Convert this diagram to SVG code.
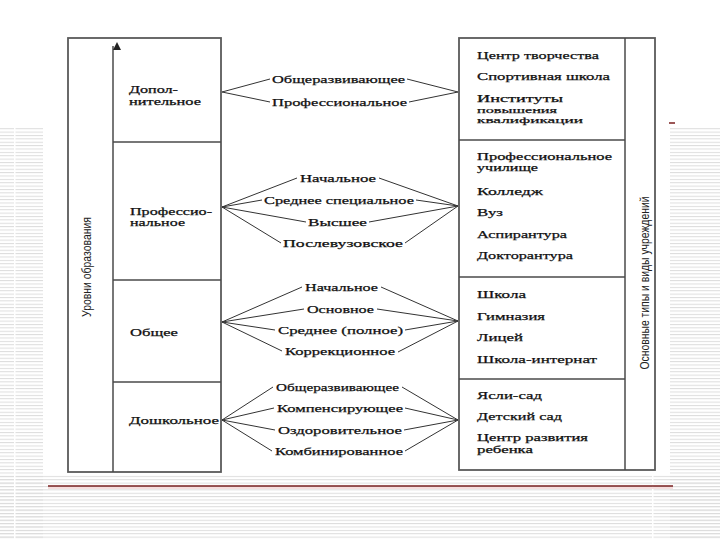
<svg xmlns="http://www.w3.org/2000/svg" width="720" height="540" viewBox="0 0 720 540">
<defs>
<pattern id="stripes" x="0" y="0" width="8" height="3.375" patternUnits="userSpaceOnUse">
<rect x="0" y="0" width="8" height="1" fill="#dcdcdc"/>
</pattern>
<marker id="arrowUp" viewBox="0 0 10 10" refX="5" refY="0" markerWidth="8" markerHeight="8" markerUnits="userSpaceOnUse" orient="auto">
<path d="M0,0 L10,5 L0,10 Z" fill="#222"/>
</marker>
<style>
.t{font-family:"Liberation Serif","Times New Roman",serif;font-size:11px;fill:#111;stroke:#111;stroke-width:0.25;}
.s{font-size:10px;}
.v{font-family:"Liberation Sans",Arial,sans-serif;font-size:12.5px;fill:#222;}
.box{fill:none;stroke:#5a5a5a;stroke-width:1.8;}
.div{stroke:#4a4a4a;stroke-width:1.5;}
.c{stroke:#333;stroke-width:1;fill:none;}
</style>
</defs>
<rect width="720" height="540" fill="#fff"/>
<g id="background">
<rect x="0" y="128" width="43" height="412" fill="url(#stripes)"/>
<rect x="670" y="128" width="50" height="412" fill="url(#stripes)"/>
<rect x="0" y="475" width="720" height="65" fill="url(#stripes)"/>
<rect x="14" y="128" width="1.5" height="412" fill="#fff"/>
<rect x="652" y="472" width="1.5" height="68" fill="#fff"/>
<rect x="48" y="487" width="625" height="2" fill="#f6dede"/>
<line x1="48" y1="486" x2="673" y2="486" stroke="#7a1f1f" stroke-width="1.5"/>
<line x1="669" y1="123" x2="675" y2="123" stroke="#7a1f1f" stroke-width="1.5"/>
</g>
<g id="levels-frame">
<rect class="box" x="68" y="38" width="153" height="434"/>
<line class="div" x1="113" y1="472" x2="113" y2="46" marker-end="url(#arrowUp)"/>
<line class="div" x1="113" y1="142" x2="221" y2="142"/>
<line class="div" x1="113" y1="280" x2="221" y2="280"/>
<line class="div" x1="113" y1="382" x2="221" y2="382"/>
<text class="v" transform="translate(91,267) rotate(-90)" text-anchor="middle" textLength="100" lengthAdjust="spacingAndGlyphs">Уровни образования</text>
</g>
<g id="level-dop">
<text class="t s" x="129" y="93" textLength="49" lengthAdjust="spacingAndGlyphs">Допол-</text>
<text class="t s" x="129" y="105" textLength="72" lengthAdjust="spacingAndGlyphs">нительное</text>
</g>
<g id="level-prof">
<text class="t s" x="130" y="215" textLength="82" lengthAdjust="spacingAndGlyphs">Профессио-</text>
<text class="t s" x="130" y="226" textLength="55" lengthAdjust="spacingAndGlyphs">нальное</text>
</g>
<g id="level-obsh">
<text class="t" x="130" y="336" textLength="48" lengthAdjust="spacingAndGlyphs">Общее</text>
</g>
<g id="level-dosh">
<text class="t" x="129" y="424" textLength="90" lengthAdjust="spacingAndGlyphs">Дошкольное</text>
</g>
<g id="inst-frame">
<rect class="box" x="459" y="38" width="196" height="432"/>
<line class="div" x1="625" y1="38" x2="625" y2="470"/>
<line class="div" x1="459" y1="140" x2="625" y2="140"/>
<line class="div" x1="459" y1="277" x2="625" y2="277"/>
<line class="div" x1="459" y1="379" x2="625" y2="379"/>
<text class="v" transform="translate(649,283) rotate(-90)" text-anchor="middle" textLength="173" lengthAdjust="spacingAndGlyphs">Основные типы и виды учреждений</text>
</g>
<g id="inst-dop">
<text class="t" x="477" y="59" textLength="122" lengthAdjust="spacingAndGlyphs">Центр творчества</text>
<text class="t" x="477" y="80" textLength="133" lengthAdjust="spacingAndGlyphs">Спортивная школа</text>
<text class="t s" x="477" y="102" textLength="86" lengthAdjust="spacingAndGlyphs">Институты</text>
<text class="t" x="477" y="113" style="font-size:9px" textLength="80" lengthAdjust="spacingAndGlyphs">повышения</text>
<text class="t" x="477" y="123" style="font-size:9px" textLength="106" lengthAdjust="spacingAndGlyphs">квалификации</text>
</g>
<g id="inst-prof">
<text class="t s" x="477" y="160" textLength="135" lengthAdjust="spacingAndGlyphs">Профессиональное</text>
<text class="t s" x="477" y="171" textLength="61" lengthAdjust="spacingAndGlyphs">училище</text>
<text class="t" x="477" y="195" textLength="66" lengthAdjust="spacingAndGlyphs">Колледж</text>
<text class="t" x="477" y="216" textLength="26" lengthAdjust="spacingAndGlyphs">Вуз</text>
<text class="t" x="477" y="238" textLength="90" lengthAdjust="spacingAndGlyphs">Аспирантура</text>
<text class="t" x="477" y="259" textLength="96" lengthAdjust="spacingAndGlyphs">Докторантура</text>
</g>
<g id="inst-obsh">
<text class="t" x="477" y="298" textLength="49" lengthAdjust="spacingAndGlyphs">Школа</text>
<text class="t" x="477" y="320" textLength="68" lengthAdjust="spacingAndGlyphs">Гимназия</text>
<text class="t" x="477" y="341" textLength="46" lengthAdjust="spacingAndGlyphs">Лицей</text>
<text class="t" x="477" y="363" textLength="120" lengthAdjust="spacingAndGlyphs">Школа-интернат</text>
</g>
<g id="inst-dosh">
<text class="t" x="477" y="399" textLength="65" lengthAdjust="spacingAndGlyphs">Ясли-сад</text>
<text class="t" x="477" y="420" textLength="85" lengthAdjust="spacingAndGlyphs">Детский сад</text>
<text class="t s" x="477" y="441" textLength="111" lengthAdjust="spacingAndGlyphs">Центр развития</text>
<text class="t s" x="477" y="453" textLength="56" lengthAdjust="spacingAndGlyphs">ребенка</text>
</g>
<g id="connectors">
<path class="c" d="M222,92 L270,79 M407,79 L458,92 M222,92 L270,102 M409,102 L458,92"/>
<path class="c" d="M222,207 L297,178 M379,178 L458,206 M222,207 L262,200 M416,200 L458,206 M222,207 L306,222 M369,222 L458,206 M222,207 L281,243 M405,243 L458,206"/>
<path class="c" d="M222,322 L302,287 M381,287 L458,321 M222,322 L304,309 M377,309 L458,321 M222,322 L275,330 M405,330 L458,321 M222,322 L282,351 M398,352 L458,321"/>
<path class="c" d="M222,420 L273,387 M402,387 L458,420 M222,420 L274,408 M405,408 L458,420 M222,420 L275,430 M404,430 L458,420 M222,420 L272,451 M405,451 L458,420"/>
</g>
<g id="connector-labels">
<text class="t" x="272" y="83" textLength="133" lengthAdjust="spacingAndGlyphs">Общеразвивающее</text>
<text class="t" x="272" y="106" textLength="135" lengthAdjust="spacingAndGlyphs">Профессиональное</text>
<text class="t" x="300" y="182" textLength="76" lengthAdjust="spacingAndGlyphs">Начальное</text>
<text class="t" x="264" y="204" textLength="150" lengthAdjust="spacingAndGlyphs">Среднее специальное</text>
<text class="t" x="308" y="226" textLength="59" lengthAdjust="spacingAndGlyphs">Высшее</text>
<text class="t" x="283" y="247" textLength="120" lengthAdjust="spacingAndGlyphs">Послевузовское</text>
<text class="t" x="305" y="291" textLength="73" lengthAdjust="spacingAndGlyphs">Начальное</text>
<text class="t" x="307" y="313" textLength="67" lengthAdjust="spacingAndGlyphs">Основное</text>
<text class="t" x="278" y="334" textLength="125" lengthAdjust="spacingAndGlyphs">Среднее (полное)</text>
<text class="t" x="285" y="355" textLength="110" lengthAdjust="spacingAndGlyphs">Коррекционное</text>
<text class="t" x="276" y="391" textLength="123" lengthAdjust="spacingAndGlyphs">Общеразвивающее</text>
<text class="t" x="277" y="412" textLength="126" lengthAdjust="spacingAndGlyphs">Компенсирующее</text>
<text class="t" x="278" y="434" textLength="124" lengthAdjust="spacingAndGlyphs">Оздоровительное</text>
<text class="t" x="275" y="455" textLength="128" lengthAdjust="spacingAndGlyphs">Комбинированное</text>
</g>
</svg>
